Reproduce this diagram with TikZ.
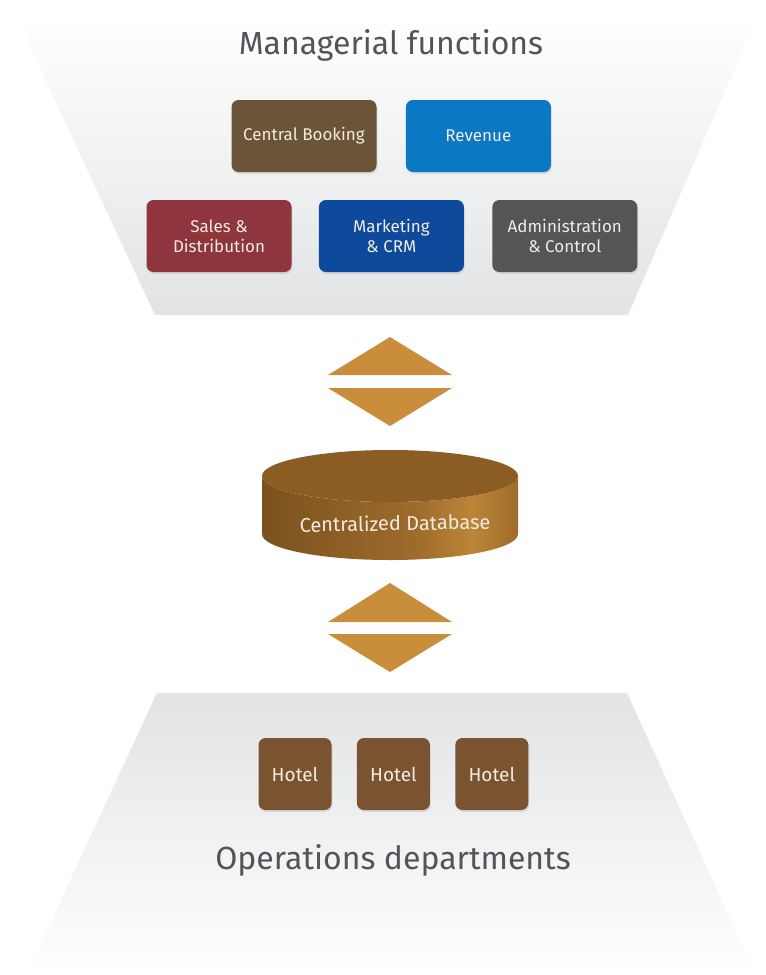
\documentclass[tikz,border=0pt]{standalone}
\usepackage{fontspec}
\setmainfont{Fira Sans}
\usepackage{tikz}
\usetikzlibrary{positioning,shadows}

\definecolor{bookbrown}{HTML}{6B5438}
\definecolor{revblue}{HTML}{0A78C2}
\definecolor{salesred}{HTML}{8E353D}
\definecolor{mktblue}{HTML}{0D4A9C}
\definecolor{admgray}{HTML}{545557}
\definecolor{hotelbrown}{HTML}{7A5430}
\definecolor{arrowgold}{HTML}{C98D3B}
\definecolor{dbdark}{HTML}{7B511E}
\definecolor{dbmid}{HTML}{9E6B2B}
\definecolor{dblight}{HTML}{BC8538}
\definecolor{dbtop}{HTML}{8B5C24}
\definecolor{panelgray}{HTML}{E2E3E5}
\definecolor{titlegray}{HTML}{51555A}
\definecolor{boxtext}{HTML}{F2EBE0}

\pgfdeclarehorizontalshading{dbside}{100bp}{color(0bp)=(dbdark); color(25bp)=(dbdark); color(55bp)=(dbmid); color(66bp)=(dblight); color(75bp)=(dbmid); color(100bp)=(dbmid)}

\begin{document}
\begin{tikzpicture}[x=1pt,y=-1pt,
    func/.style={rounded corners=7pt,minimum width=145pt,minimum height=72pt,align=center,text=boxtext,font=\fontsize{17}{20}\selectfont,drop shadow={opacity=0.18,shadow xshift=1pt,shadow yshift=-2pt}},
    hotel/.style={func,minimum width=73pt,fill=hotelbrown,font=\fontsize{19}{22}\selectfont},
    heading/.style={text=titlegray,font=\fontsize{32}{36}\selectfont}]
  \useasboundingbox (0,0) rectangle (766,975);
  \shade[top color=white,bottom color=panelgray] (15,15) -- (758,15) -- (628,315) -- (155,315) -- cycle;
  \shade[top color=panelgray,bottom color=white] (157,693) -- (627,693) -- (756,975) -- (26,975) -- cycle;

  \node[heading] (managerial) at (391,45) {Managerial functions};
  \node[func,fill=bookbrown] (booking) at (304,136) {Central Booking};
  \node[func,fill=revblue,right=29pt of booking] (revenue) {Revenue};
  \node[func,fill=salesred] (sales) at (219,236) {Sales \&\\Distribution};
  \node[func,fill=mktblue,right=27pt of sales] (marketing) {Marketing\\\& CRM};
  \node[func,fill=admgray,right=28pt of marketing] (admin) {Administration\\\& Control};

  \fill[arrowgold] (390,337) -- (452,375) -- (328,375) -- cycle;
  \fill[arrowgold] (328,388) -- (452,388) -- (390,426) -- cycle;

  \shade[shading=dbside] (262,476) -- (262,534) arc[start angle=180,end angle=0,x radius=128,y radius=26] -- (518,476) arc[start angle=0,end angle=180,x radius=128,y radius=26] -- cycle;
  \fill[dbtop] (390,476) ellipse[x radius=128,y radius=26];
  \node[text=boxtext,font=\fontsize{20}{24}\selectfont,rotate=1] (database) at (395,523) {Centralized Database};

  \fill[arrowgold] (390,583) -- (452,622) -- (328,622) -- cycle;
  \fill[arrowgold] (328,634) -- (452,634) -- (390,672) -- cycle;

  \node[hotel] (hotel1) at (295,774) {Hotel};
  \node[hotel,right=25pt of hotel1] (hotel2) {Hotel};
  \node[hotel,right=25pt of hotel2] (hotel3) {Hotel};
  \node[heading] (operations) at (393,860) {Operations departments};
\end{tikzpicture}
\end{document}
